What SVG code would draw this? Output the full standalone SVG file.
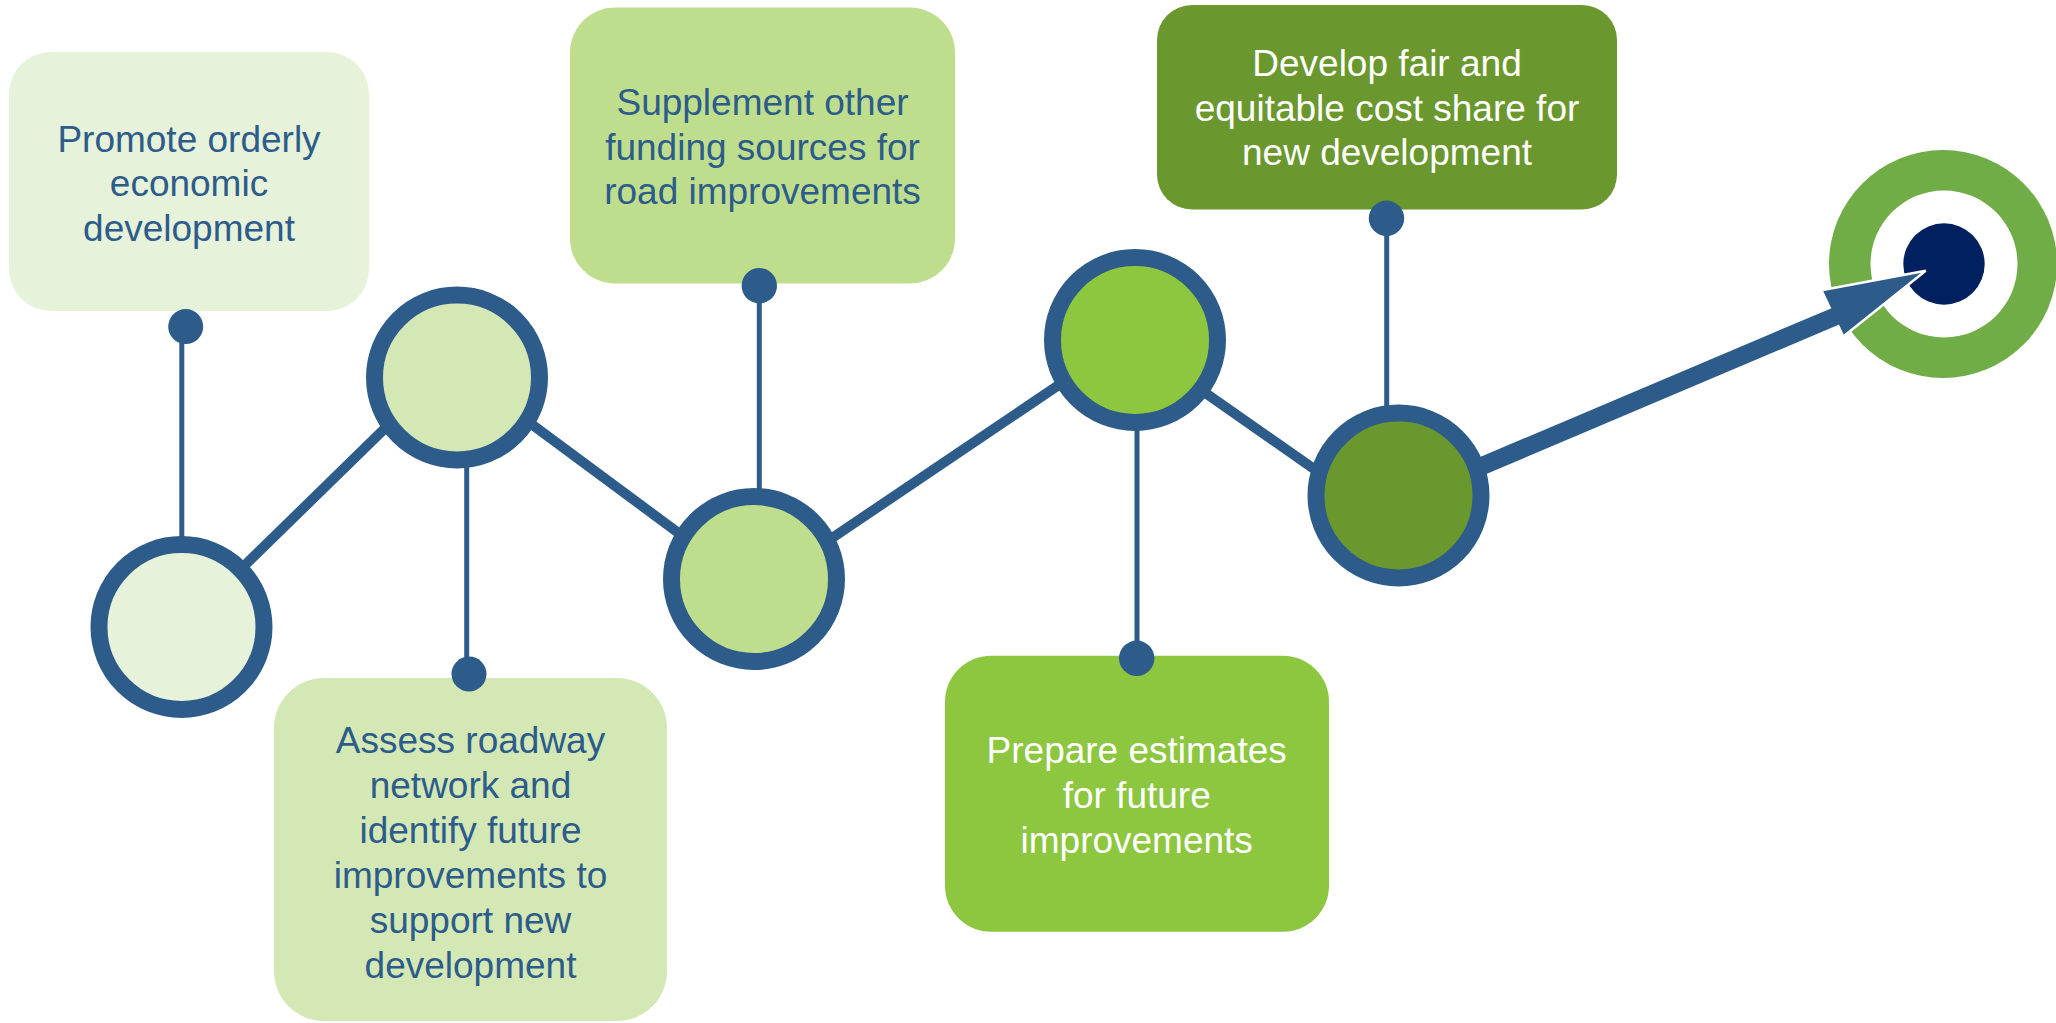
<svg xmlns="http://www.w3.org/2000/svg" width="2056" height="1023" viewBox="0 0 2056 1023">
  <style>
    .link { stroke: #2D5C8A; stroke-width: 10; fill: none; }
    .stem { stroke: #2D5C8A; stroke-width: 5; fill: none; }
    .ring { stroke: #2D5C8A; stroke-width: 17; }
    .dot { fill: #2D5C8A; }
    .label { font-family: "Liberation Sans", Arial, sans-serif; font-size: 37px; text-anchor: middle; }
    .dark { fill: #2D5C8A; }
    .light { fill: #FFFFFF; }
  </style>
  <rect width="2056" height="1023" fill="#FFFFFF"/>

  <!-- target at the end of the path -->
  <g id="target">
    <circle cx="1943" cy="264" r="114" fill="#70AD47"/>
    <circle cx="1944" cy="264" r="73.5" fill="#FFFFFF"/>
    <circle cx="1944" cy="264" r="40.7" fill="#002060"/>
  </g>

  <!-- path segments, stems and final arrow -->
  <g id="connectors">
    <line class="link" x1="181.5" y1="627" x2="420" y2="394.2"/>
    <line class="link" x1="490" y1="393.4" x2="720" y2="563.7"/>
    <line class="link" x1="790" y1="566.4" x2="1100" y2="357.2"/>
    <line class="link" x1="1170" y1="368.2" x2="1350" y2="494.1"/>

    <line class="stem" x1="181.8" y1="326" x2="181.8" y2="560"/>
    <line class="stem" x1="466.7" y1="420" x2="466.7" y2="674"/>
    <line class="stem" x1="759.3" y1="286" x2="759.3" y2="520"/>
    <line class="stem" x1="1137" y1="400" x2="1137" y2="658"/>
    <line class="stem" x1="1386.7" y1="218" x2="1386.7" y2="440"/>

    <line x1="1420" y1="492.3" x2="1838" y2="315.2" stroke="#2D5C8A" stroke-width="18"/>
    <polygon points="1822.7,290 1925.7,270.7 1844.3,335.7" fill="#2D5C8A"/>
    <polyline points="1822.7,290 1925.7,270.7 1844.3,335.7" fill="none" stroke="#FFFFFF" stroke-width="2.5" stroke-linejoin="miter"/>
  </g>

  <g id="step1">
    <circle class="ring" cx="181.5" cy="627" r="82.5" fill="#E6F2DA"/>
    <rect x="9" y="52" width="360" height="259" rx="42" fill="#E6F2DA"/>
    <circle class="dot" cx="185.7" cy="326.6" r="17.5"/>
    <text class="label dark" x="189" y="151.6">Promote orderly</text>
    <text class="label dark" x="189" y="196.3">economic</text>
    <text class="label dark" x="189" y="241">development</text>
  </g>

  <g id="step2">
    <circle class="ring" cx="457" cy="377.5" r="82.5" fill="#D3E8B5"/>
    <rect x="274" y="678" width="393" height="343" rx="50" fill="#D3E8B5"/>
    <circle class="dot" cx="469" cy="674" r="17.5"/>
    <text class="label dark" x="470.5" y="752.7">Assess roadway</text>
    <text class="label dark" x="470.5" y="797.7">network and</text>
    <text class="label dark" x="470.5" y="842.7">identify future</text>
    <text class="label dark" x="470.5" y="887.7">improvements to</text>
    <text class="label dark" x="470.5" y="932.7">support new</text>
    <text class="label dark" x="470.5" y="977.7">development</text>
  </g>

  <g id="step3">
    <circle class="ring" cx="754" cy="579" r="82.5" fill="#BEDE8E"/>
    <rect x="570" y="7.5" width="385" height="276" rx="45" fill="#BEDE8E"/>
    <circle class="dot" cx="759.3" cy="285.7" r="17.7"/>
    <text class="label dark" x="762.5" y="115">Supplement other</text>
    <text class="label dark" x="762.5" y="160">funding sources for</text>
    <text class="label dark" x="762.5" y="204">road improvements</text>
  </g>

  <g id="step4">
    <circle class="ring" cx="1135" cy="340" r="82.5" fill="#8DC63F"/>
    <rect x="945" y="655.7" width="384" height="276" rx="46" fill="#8DC63F"/>
    <circle class="dot" cx="1136.7" cy="658.3" r="17.7"/>
    <text class="label light" x="1136.7" y="763.3">Prepare estimates</text>
    <text class="label light" x="1136.7" y="808.3">for future</text>
    <text class="label light" x="1136.7" y="853.3">improvements</text>
  </g>

  <g id="step5">
    <circle class="ring" cx="1398.5" cy="495.5" r="82.5" fill="#6B982E"/>
    <rect x="1157" y="5" width="460" height="204.5" rx="35" fill="#6B982E"/>
    <circle class="dot" cx="1386.5" cy="218.3" r="17.7"/>
    <text class="label light" x="1387" y="76">Develop fair and</text>
    <text class="label light" x="1387" y="120.5">equitable cost share for</text>
    <text class="label light" x="1387" y="165">new development</text>
  </g>
</svg>
